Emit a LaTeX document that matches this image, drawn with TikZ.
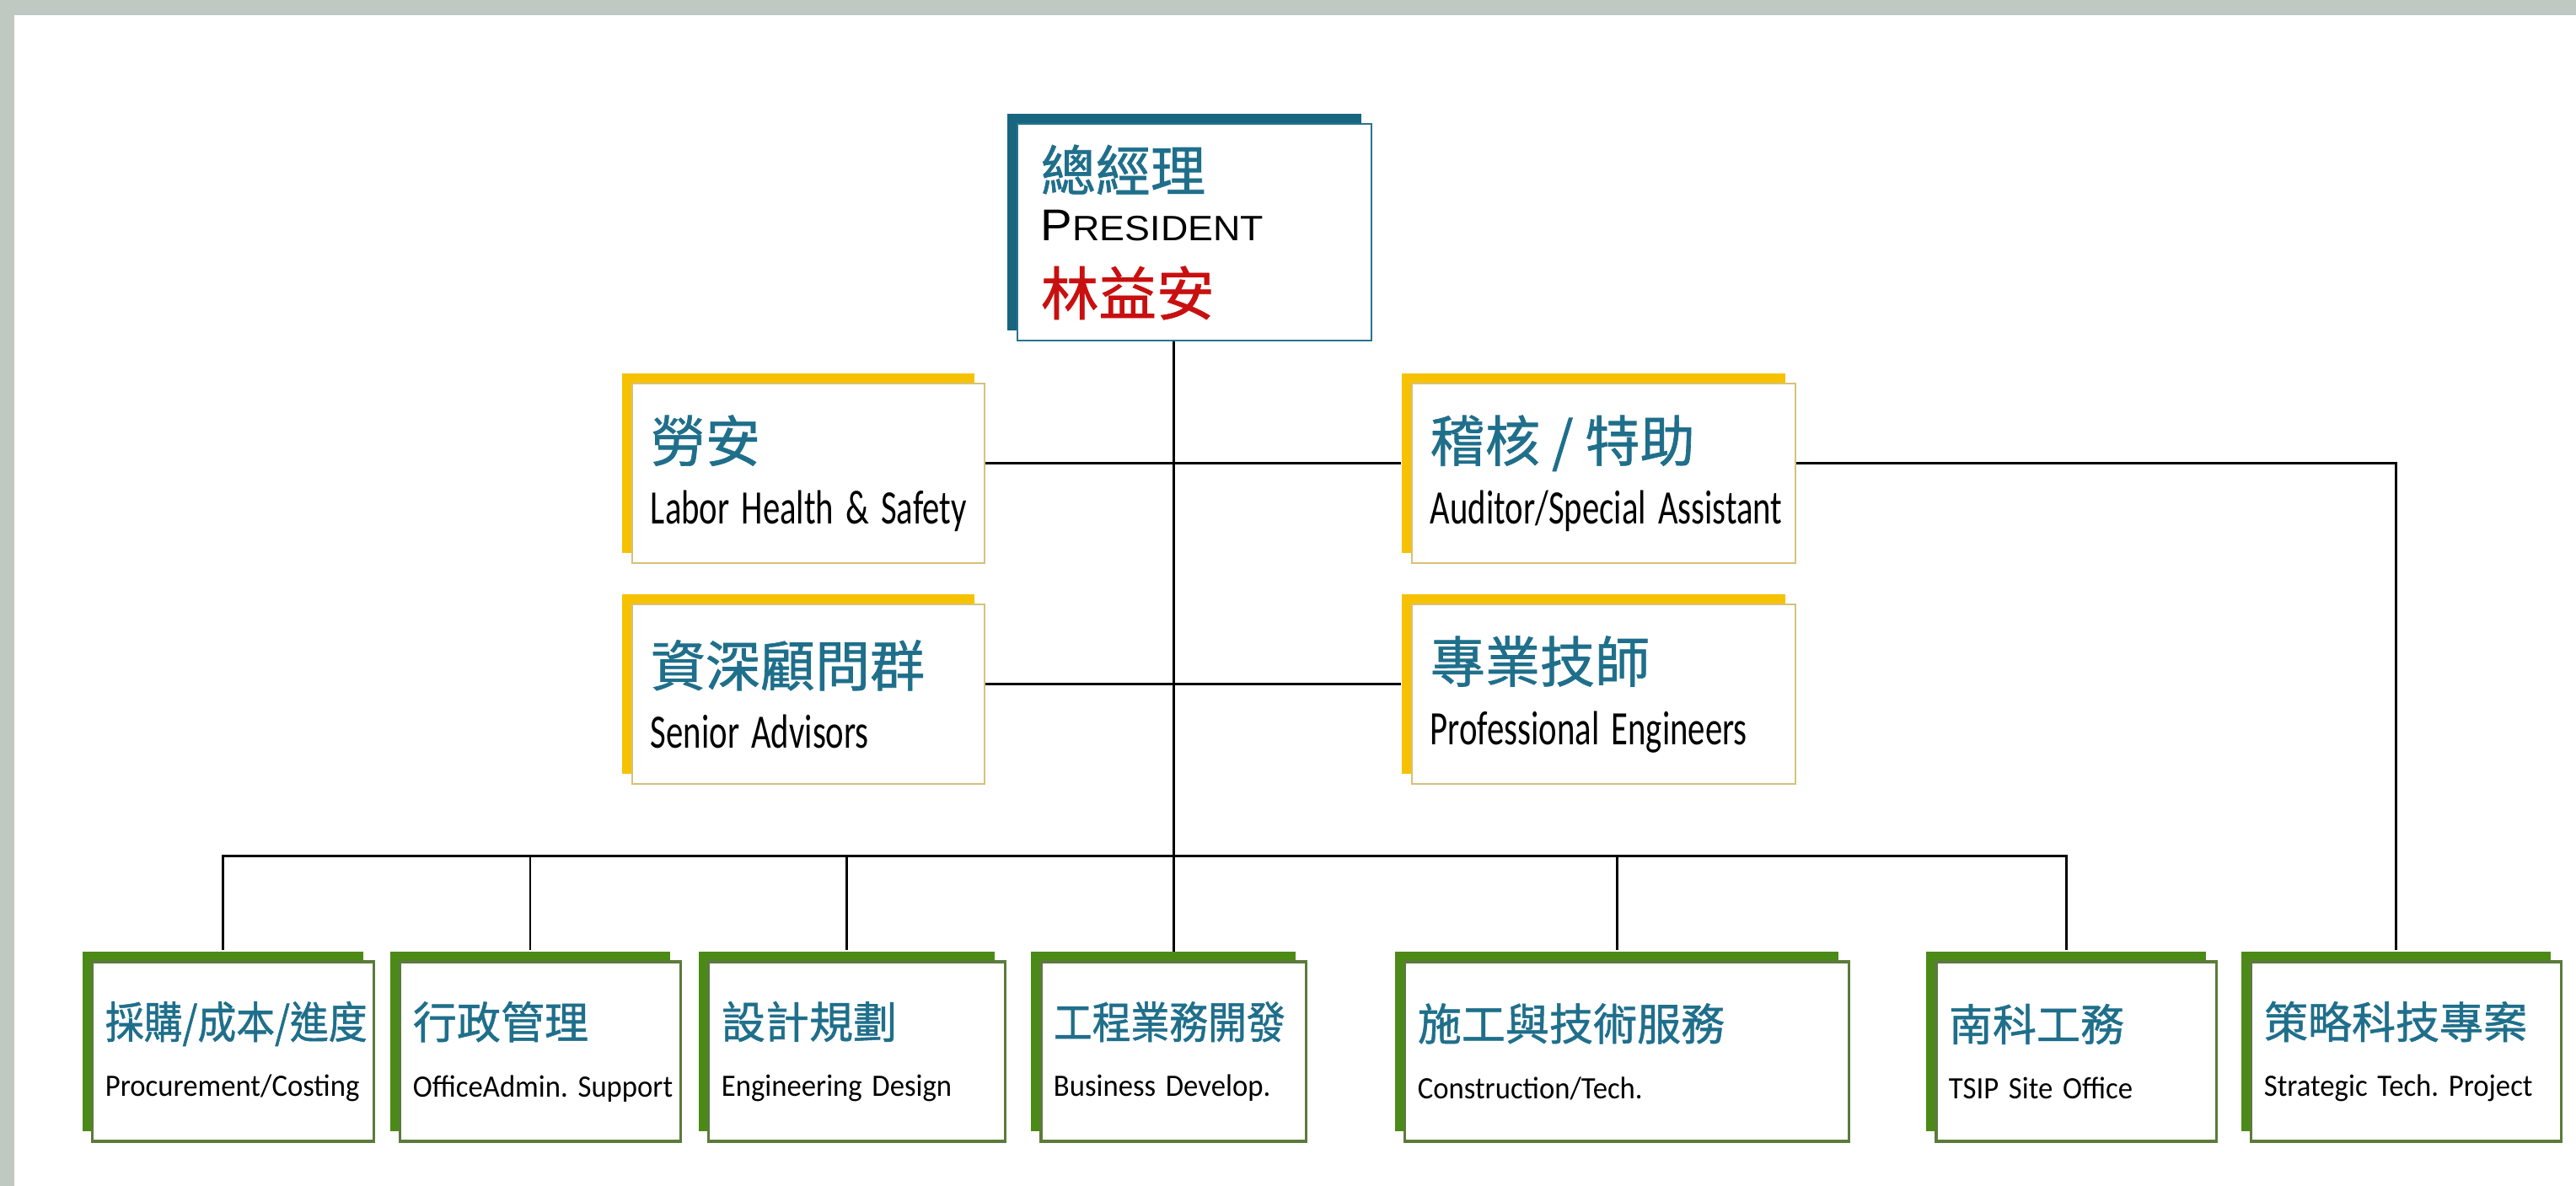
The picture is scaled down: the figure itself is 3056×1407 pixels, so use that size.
\documentclass[tikz,border=0pt]{standalone}
\usepackage{fontspec}
\newfontfamily\zhfont[FakeBold=1]{Noto Sans CJK TC}
\newfontfamily\zhnarrow[FakeBold=1,FakeStretch=0.88]{Noto Sans CJK TC}
\newfontfamily\enfont[FakeStretch=0.715]{Carlito}
\newfontfamily\ensmall[FakeStretch=0.94]{Carlito}
\newfontfamily\presfont[FakeStretch=1.07]{Liberation Sans}
\usetikzlibrary{positioning,shadows,backgrounds}
\frenchspacing

\definecolor{framegray}{HTML}{BFC9C1}
\definecolor{zhteal}{HTML}{1F6F8B}
\definecolor{presred}{HTML}{C81010}
\definecolor{tealdark}{HTML}{17657F}
\definecolor{tealline}{HTML}{2A7390}
\definecolor{goldbar}{HTML}{F6C200}
\definecolor{goldline}{HTML}{D8C07A}
\definecolor{greenbar}{HTML}{4C8A17}
\definecolor{greenline}{HTML}{5B7B3B}

\newcommand{\staff}[2]{\mbox{\zhfont\fontsize{18.5}{21}\selectfont\color{zhteal}#1}\\
  \mbox{\enfont\fontsize{16.2}{21}\selectfont #2}}
\newcommand{\dept}[2]{\mbox{\zhfont\fontsize{14.8}{19.6}\selectfont\color{zhteal}#1}\\
  \mbox{\ensmall\fontsize{10.5}{19.6}\selectfont #2}}

\begin{document}
\begin{tikzpicture}[x=0.01cm,y=-0.01cm,
  presbox/.style={draw=tealline,line width=0.7pt,fill=white,rectangle,
    text width=3.64cm,inner xsep=0.28cm,minimum height=2.57cm,align=left,
    font=\fontsize{12}{16.8}\selectfont,
    general shadow={shadow xshift=-0.12cm,shadow yshift=0.12cm,fill=tealdark}},
  staffbox/.style={draw=goldline,line width=0.6pt,fill=white,rectangle,
    inner xsep=0.22cm,minimum height=2.13cm,align=left,
    font=\fontsize{12}{21}\selectfont,
    general shadow={shadow xshift=-0.12cm,shadow yshift=0.12cm,fill=goldbar}},
  deptbox/.style={draw=greenline,line width=0.9pt,fill=white,rectangle,
    inner xsep=0.15cm,minimum height=2.13cm,align=left,
    font=\fontsize{10}{19.6}\selectfont,
    general shadow={shadow xshift=-0.12cm,shadow yshift=0.12cm,fill=greenbar}},
  conn/.style={line width=0.85pt,black},
  onshadow/.style={shift={(-12,-12)}}]

  \useasboundingbox (0,0) rectangle (3056,1407);

  % president
  \node[presbox] (pres) at (1417,275.5) {\mbox{\zhfont\fontsize{18.5}{16.8}\selectfont\color{zhteal}總經理}\\
    \mbox{\presfont\fontsize{15}{16.8}\selectfont P\fontsize{11.9}{16.8}\selectfont RESIDENT}\\[8.2pt]
    \mbox{\zhfont\fontsize{19.5}{16.8}\selectfont\color{presred}林益安}};

  % staff units
  \node[staffbox,text width=3.74cm] (lab) at (959,561.5) {\staff{勞安}{Labor Health \& Safety}};
  \node[staffbox,text width=3.74cm] (sen) [below=0.47cm of lab] {\staff{資深顧問群}{Senior Advisors}};
  \node[staffbox,text width=4.11cm] (aud) at (1902.5,561.5) {\staff{稽核 / 特助}{Auditor/Special Assistant}};
  \node[staffbox,text width=4.11cm] (pro) [below=0.47cm of aud] {\staff{專業技師}{Professional Engineers}};

  % departments
  \node[deptbox,text width=3.03cm] (b1) at (276.5,1247.5) {\dept{\zhnarrow 採購/成本/進度}{Procurement/Costing}};
  \node[deptbox,text width=3.02cm] (b2) at (641,1247.5) {\dept{行政管理}{OfficeAdmin. Support}};
  \node[deptbox,text width=3.21cm] (b3) at (1016.5,1247.5) {\dept{設計規劃}{Engineering Design}};
  \node[deptbox,text width=2.84cm] (b4) at (1392,1247.5) {\dept{\zhnarrow 工程業務開發}{Business Develop.}};
  \node[deptbox,text width=4.96cm] (b5) at (1930,1247.5) {\dept{施工與技術服務}{Construction/Tech.}};
  \node[deptbox,text width=3.02cm] (b6) at (2463,1247.5) {\dept{南科工務}{TSIP Site Office}};
  \node[deptbox,text width=3.37cm] (b7) at (2854.5,1247.5) {\dept{策略科技專案}{Strategic Tech. Project}};

  \begin{scope}[on background layer]
    \fill[framegray] (0,0) rectangle (3056,1407);
    \fill[white] (17,18) rectangle (3056,1407);

    \draw[conn] (b4.north) -- (b4.north |- pres.south);
    \draw[conn] ([onshadow]lab.east) -- ([onshadow]aud.west);
    \draw[conn] ([onshadow]sen.east) -- ([onshadow]pro.west);
    \draw[conn] ([onshadow]aud.east) -| ([onshadow]b7.north);
    \coordinate (bus) at (b4.north |- 0,1016);
    \foreach \i in {1,2,3,5,6}
      \draw[conn] ([onshadow]b\i.north) |- (bus);
  \end{scope}
\end{tikzpicture}
\end{document}
